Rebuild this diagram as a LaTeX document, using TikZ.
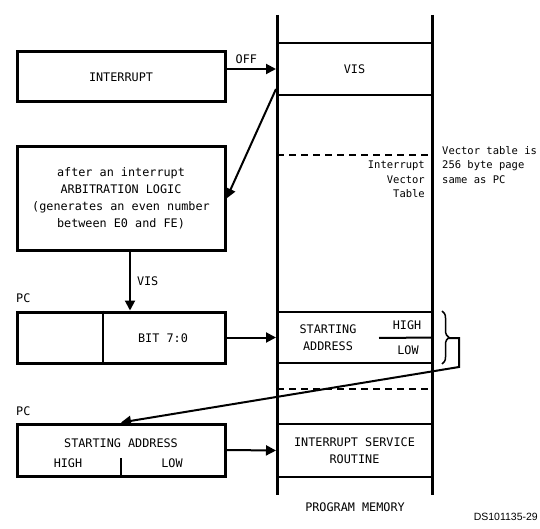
\documentclass[tikz,border=0pt]{standalone}
\usepackage{fontspec}
\setmainfont{DejaVu Sans Mono}
\newfontfamily\dsfont{Liberation Sans}
\usetikzlibrary{arrows.meta,decorations.pathreplacing}

\begin{document}
\begin{tikzpicture}[x=1pt, y=-1pt,
    box/.style={rectangle, draw, line width=3pt, minimum width=208pt, align=center, inner sep=0pt},
    cell/.style={rectangle, draw, line width=2pt, minimum width=155pt, align=center, inner sep=0pt},
    txt/.style={inner sep=0pt, align=center},
    arrow/.style={-{Triangle[length=10pt,width=10pt]}, line width=2pt},
    sep/.style={line width=1.5pt, dash pattern=on 7pt off 5pt},
    font=\fontsize{11.8}{17}\selectfont
  ]
    \useasboundingbox (0,0) rectangle (540,529);

    % left side: interrupt logic and PC
    \node[box, minimum height=50pt] (intr) at (121,77) {INTERRUPT};
    \node[box, minimum height=103pt] (arb) at (121,198.5)
      {after an interrupt\\ARBITRATION LOGIC\\(generates an even number\\between E0 and FE)};
    \node[box, minimum height=51pt] (pc1) at (121,337.5) {};
    \node[txt] (bit) at (163,338) {BIT 7:0};
    \node[txt, anchor=south west] (pclbl1) at (16,303) {PC};
    \node[box, minimum height=52pt] (pc2) at (121,450) {};
    \node[txt] (sahdr) at (121,443) {STARTING ADDRESS};
    \node[txt] (pchigh) at (68,463) {HIGH};
    \node[txt] (pclow) at (172,463) {LOW};
    \node[txt, anchor=south west] (pclbl2) at (16,416) {PC};
    \draw[line width=2pt] (pc1.north -| 103,0) -- (pc1.south -| 103,0);
    \draw[line width=2pt] (121,458) -- (pc2.south);

    % program memory
    \node[cell, minimum height=52pt] (vis) at (354.5,69) {VIS};
    \node[cell, minimum height=51pt] (sa) at (354.5,337.5) {};
    \node[txt] (satxt) at (328,338) {STARTING\\ADDRESS};
    \node[txt] (sahigh) at (407,325) {HIGH};
    \node[txt] (salow) at (408,350) {LOW};
    \draw[line width=2pt] (379,338) -- (sa.east);
    \node[cell, minimum height=53pt] (isr) at (354.5,450.5) {INTERRUPT SERVICE\\ROUTINE};
    \draw[sep] (277,155) -- (432,155);
    \draw[sep] (277,389) -- (432,389);
    \draw[line width=3pt] (277,15) -- (277,495);
    \draw[line width=3pt] (432,15) -- (432,495);
    \node[txt, align=right, anchor=north east, font=\fontsize{10.5}{14.5}\selectfont] (ivt) at (425,161) {Interrupt\\Vector\\Table};
    \node[txt, align=left, anchor=north west, font=\fontsize{10.5}{14.5}\selectfont] (note) at (442,146) {Vector table is\\256 byte page\\same as PC};
    \node[txt] (pm) at (355,507) {PROGRAM MEMORY};
    \node[txt, anchor=east, font=\dsfont\fontsize{10.5}{12}\selectfont] (ds) at (538,517) {DS101135-29};

    % connectors
    \draw[arrow] (intr.east |- vis.west) -- node[pos=0.4, above=4pt, inner sep=0pt] {OFF} (vis.west);
    \draw[arrow] ([yshift=7pt]vis.south west) -- (arb.east);
    \draw[arrow] ([xshift=9pt]arb.south) -- node[right=6pt, inner sep=0pt] {VIS} ([xshift=9pt]pc1.north);
    \draw[arrow] (pc1.east) -- (sa.west);
    \draw[arrow] (pc2.east) -- (isr.west);
    \draw[line width=1.5pt, decorate, decoration={brace, amplitude=7pt}]
      ([xshift=9pt]sa.north east) -- ([xshift=9pt]sa.south east);
    \coordinate (bk1) at (459,338);
    \coordinate (bk2) at (459,367);
    \draw[arrow] (449,338) -- (bk1) -- (bk2) -- (pc2.north);
  \end{tikzpicture}
\end{document}
